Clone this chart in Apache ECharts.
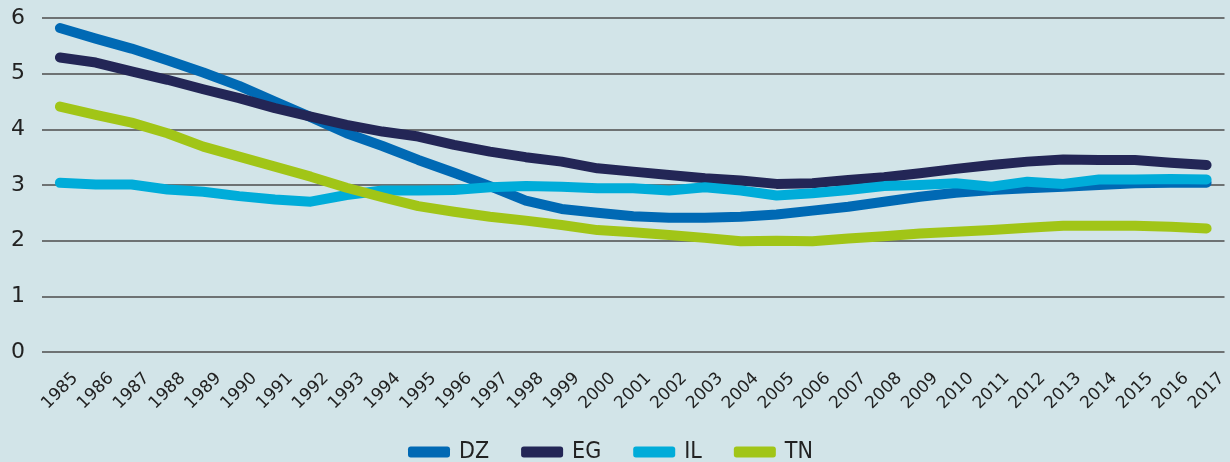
<!DOCTYPE html>
<html>
<head>
    <meta charset="utf-8">
    <script src="https://cdn.jsdelivr.net/npm/echarts@6/dist/echarts.min.js"></script>
    <style>
        html, body { margin: 0; padding: 0; background: #d2e4e8; }
        #chart { width: 1230px; height: 462px; }
    </style>
</head>
<body>
    <div id="chart"></div>
    <script type="text/javascript">
        // years on the x axis
        var years = ['1985', '1986', '1987', '1988', '1989', '1990', '1991', '1992', '1993', '1994',
            '1995', '1996', '1997', '1998', '1999', '2000', '2001', '2002', '2003', '2004',
            '2005', '2006', '2007', '2008', '2009', '2010', '2011', '2012', '2013', '2014',
            '2015', '2016', '2017'];

        var dz = [5.82, 5.63, 5.45, 5.24, 5.02, 4.78, 4.5, 4.22, 3.93, 3.7,
            3.45, 3.22, 2.98, 2.72, 2.57, 2.5, 2.44, 2.41, 2.41, 2.43,
            2.47, 2.54, 2.61, 2.7, 2.79, 2.86, 2.91, 2.94, 2.97, 3.0,
            3.03, 3.04, 3.04];
        var eg = [5.29, 5.2, 5.04, 4.89, 4.72, 4.56, 4.38, 4.23, 4.08, 3.96,
            3.87, 3.72, 3.6, 3.5, 3.42, 3.3, 3.24, 3.18, 3.12, 3.08,
            3.02, 3.03, 3.09, 3.14, 3.21, 3.29, 3.36, 3.42, 3.46, 3.45,
            3.45, 3.4, 3.36];
        var il = [3.04, 3.01, 3.01, 2.92, 2.88, 2.8, 2.74, 2.7, 2.82, 2.9,
            2.9, 2.91, 2.96, 2.98, 2.97, 2.94, 2.94, 2.9, 2.96, 2.9,
            2.81, 2.85, 2.91, 2.98, 3.0, 3.03, 2.97, 3.06, 3.02, 3.1,
            3.1, 3.11, 3.1];
        var tn = [4.41, 4.26, 4.12, 3.93, 3.69, 3.51, 3.33, 3.15, 2.95, 2.78,
            2.62, 2.52, 2.43, 2.36, 2.28, 2.19, 2.15, 2.1, 2.05, 1.99,
            2.0, 1.99, 2.04, 2.08, 2.13, 2.16, 2.19, 2.23, 2.27, 2.27,
            2.27, 2.25, 2.22];

        var names = ['DZ', 'EG', 'IL', 'TN'];
        var colors = ['#0069b4', '#232656', '#00acd9', '#a1c517'];
        var values = [dz, eg, il, tn];

        var myChart = echarts.init(document.getElementById('chart'));

        var series = [];
        for (var i = 0; i < names.length; i++) {
            series.push({
                name: names[i],
                type: 'line',
                data: values[i],
                symbol: 'none',
                lineStyle: { width: 10, color: colors[i], cap: 'round', join: 'round' },
                itemStyle: { color: colors[i] }
            });
        }

        var option = {
            backgroundColor: '#d2e4e8',
            animation: false,
            color: colors,
            grid: { left: 42, right: 4, top: 18, bottom: 110 },
            legend: {
                top: 439,
                left: 408,
                icon: 'roundRect',
                itemWidth: 42,
                itemHeight: 11,
                itemGap: 32,
                padding: 0,
                textStyle: {
                    fontSize: 23,
                    lineHeight: 26,
                    color: '#222',
                    fontFamily: '"Liberation Sans Narrow", "DejaVu Sans Condensed", sans-serif',
                    padding: [0, 0, 0, 4]
                },
                data: names
            },
            xAxis: {
                type: 'category',
                data: years,
                boundaryGap: true,
                axisLine: { show: false },
                axisTick: { show: false },
                axisLabel: {
                    interval: 0,
                    rotate: 45,
                    align: 'center',
                    verticalAlign: 'middle',
                    fontSize: 17,
                    color: '#222',
                    fontFamily: 'DejaVu Sans',
                    margin: 39
                }
            },
            yAxis: {
                type: 'value',
                min: 0,
                max: 6,
                interval: 1,
                axisLabel: { fontSize: 22, color: '#222', fontFamily: 'DejaVu Sans', margin: 17 },
                splitLine: { lineStyle: { color: '#4d4d4d', width: 1.5 } }
            },
            series: series
        };
        myChart.setOption(option);
    </script>
</body>
</html>
